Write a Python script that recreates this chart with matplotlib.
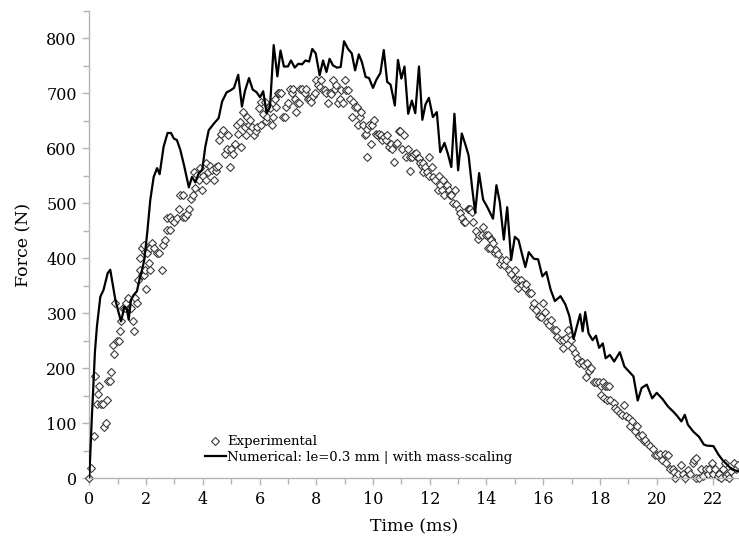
import matplotlib
matplotlib.use("Agg")
import matplotlib.pyplot as plt
from matplotlib.ticker import MultipleLocator

# numerical model (le = 0.3 mm, mass-scaling)
num_t = [0, 0.09, 0.2, 0.27, 0.39, 0.5, 0.65, 0.74, 0.92, 1.04, 1.12, 1.24, 1.33, 1.39,
         1.47, 1.56, 1.68, 1.78, 1.86, 1.94, 2.04, 2.15, 2.27, 2.39, 2.48, 2.62, 2.76,
         2.88, 2.98, 3.09, 3.21, 3.35, 3.51, 3.62, 3.74, 3.86, 3.98, 4.09, 4.21, 4.39,
         4.56, 4.68, 4.84, 4.96, 5.1, 5.25, 5.38, 5.49, 5.63, 5.76, 5.9, 6.02, 6.13,
         6.25, 6.37, 6.5, 6.63, 6.74, 6.86, 7.0, 7.11, 7.24, 7.37, 7.5, 7.62, 7.75,
         7.86, 7.98, 8.12, 8.24, 8.36, 8.47, 8.59, 8.73, 8.86, 8.98, 9.12, 9.25, 9.37,
         9.5, 9.61, 9.74, 9.86, 10.0, 10.12, 10.26, 10.38, 10.5, 10.62, 10.77, 10.88,
         11.0, 11.11, 11.24, 11.37, 11.49, 11.62, 11.74, 11.85, 11.97, 12.11, 12.25,
         12.37, 12.52, 12.64, 12.76, 12.87, 13.0, 13.13, 13.25, 13.37, 13.49, 13.6,
         13.74, 13.88, 14.03, 14.23, 14.35, 14.47, 14.61, 14.73, 14.87, 15.0, 15.13,
         15.24, 15.37, 15.49, 15.67, 15.82, 15.97, 16.11, 16.26, 16.41, 16.61, 16.78,
         16.92, 17.07, 17.19, 17.3, 17.39, 17.48, 17.6, 17.74, 17.86, 17.97, 18.1, 18.2,
         18.35, 18.5, 18.7, 18.86, 19.02, 19.18, 19.33, 19.47, 19.65, 19.84, 20.0, 20.2,
         20.4, 20.58, 20.72, 20.87, 20.99, 21.1, 21.28, 21.49, 21.66, 21.76, 22.0,
         22.17, 22.33, 22.47, 22.64, 22.82, 22.95]
num_f = [0, 109, 230, 276, 330, 342, 373, 379, 324, 300, 285, 312, 306, 288,
         324, 333, 340, 364, 379, 397, 445, 506, 548, 564, 553, 603, 628,
         628, 618, 615, 597, 567, 529, 548, 538, 555, 561, 603, 633, 645,
         655, 685, 702, 705, 710, 734, 676, 705, 728, 707, 702, 693, 704,
         664, 675, 788, 731, 778, 749, 749, 760, 747, 754, 753, 760, 758,
         781, 773, 733, 760, 739, 763, 751, 747, 748, 795, 781, 773, 742,
         771, 757, 730, 728, 710, 725, 737, 779, 721, 716, 678, 761,
         727, 749, 663, 687, 664, 749, 652, 680, 692, 657, 666,
         593, 610, 590, 566, 663, 560, 627, 608, 587, 530, 483,
         555, 507, 493, 472, 533, 502, 434, 493, 397, 439, 433,
         410, 384, 411, 399, 398, 367, 375, 343, 322, 331, 316,
         295, 253, 277, 298, 267, 302, 263, 251, 259, 237, 245, 218,
         224, 212, 229, 203, 194, 185, 141, 164, 170, 145, 155, 144,
         130, 121, 113, 103, 115, 97, 85, 75, 61, 59, 58,
         43, 32, 25, 16, 13, 12]

# experimental measurements
exp_t = [0, 0.07, 0.15, 0.21, 0.27, 0.31, 0.36, 0.42, 0.48, 0.51, 0.59, 0.62, 0.66, 0.72,
         0.78, 0.82, 0.88, 0.92, 0.98, 1.04, 1.09, 1.12, 1.18, 1.25, 1.31, 1.36, 1.42,
         1.48, 1.53, 1.56, 1.62, 1.68, 1.72, 1.78, 1.8, 1.86, 1.86, 1.92, 1.92, 1.95,
         1.98, 2.01, 2.04, 2.09, 2.13, 2.14, 2.2, 2.28, 2.37, 2.46, 2.55, 2.6, 2.66,
         2.75, 2.84, 2.75, 2.84, 2.9, 2.99, 3.08, 3.15, 3.19, 3.29, 3.29, 3.37, 3.43,
         3.52, 3.57, 3.64, 3.72, 3.69, 3.78, 3.87, 3.96, 3.92, 4.02, 4.11, 4.13, 4.19,
         4.25, 4.31, 4.39, 4.46, 4.48, 4.54, 4.58, 4.66, 4.72, 4.78, 4.84, 4.9, 4.95,
         5.01, 5.07, 5.13, 5.19, 5.25, 5.3, 5.36, 5.42, 5.48, 5.52, 5.56, 5.63, 5.68,
         5.75, 5.8, 5.87, 5.92, 5.99, 6.04, 6.07, 6.13, 6.18, 6.22, 6.27, 6.34, 6.38,
         6.43, 6.48, 6.53, 6.59, 6.65, 6.7, 6.77, 6.83, 6.89, 6.95, 7.01, 7.07, 7.13,
         7.18, 7.24, 7.28, 7.32, 7.4, 7.44, 7.51, 7.59, 7.65, 7.71, 7.77, 7.83, 7.89,
         7.95, 8.0, 8.06, 8.12, 8.18, 8.24, 8.3, 8.35, 8.41, 8.47, 8.53, 8.59, 8.65,
         8.71, 8.77, 8.83, 8.88, 8.94, 9.0, 9.06, 9.12, 9.18, 9.25, 9.3, 9.36, 9.42,
         9.48, 9.53, 9.59, 9.65, 9.71, 9.77, 9.79, 9.8, 9.86, 9.92, 9.98, 10.04, 10.1,
         10.15, 10.21, 10.27, 10.33, 10.39, 10.45, 10.51, 10.56, 10.62, 10.68, 10.74,
         10.8, 10.86, 10.91, 10.96, 11.03, 11.11, 11.17, 11.23, 11.31, 11.31, 11.38,
         11.45, 11.51, 11.57, 11.63, 11.65, 11.72, 11.77, 11.77, 11.84, 11.89, 11.97,
         11.99, 12.08, 12.13, 12.2, 12.28, 12.34, 12.36, 12.43, 12.48, 12.52, 12.6,
         12.67, 12.72, 12.76, 12.81, 12.9, 12.93, 13.02, 13.08, 13.14, 13.2, 13.26,
         13.34, 13.37, 13.42, 13.49, 13.53, 13.63, 13.69, 13.75, 13.84, 13.88, 13.98,
         14.04, 14.07, 14.11, 14.15, 14.17, 14.24, 14.3, 14.34, 14.42, 14.46, 14.55,
         14.6, 14.69, 14.79, 14.87, 14.99, 14.99, 15.1, 15.1, 15.22, 15.25, 15.34,
         15.4, 15.49, 15.57, 15.63, 15.69, 15.75, 15.84, 15.92, 15.98, 16.07, 16.12,
         16.21, 16.27, 16.39, 16.45, 16.5, 16.58, 16.68, 16.68, 16.8, 16.86, 16.97,
         17.03, 17.12, 17.2, 17.26, 17.35, 17.44, 17.49, 17.55, 17.61, 17.7, 17.79,
         17.87, 17.96, 18.02, 18.1, 18.17, 18.25, 18.33, 18.02, 18.14, 18.25, 18.37,
         18.49, 18.52, 18.6, 18.69, 18.78, 18.84, 18.9, 19.02, 19.07, 19.13, 19.25,
         19.31, 19.37, 19.48, 19.54, 19.6, 19.7, 19.78, 19.86, 19.93, 20.01, 20.1,
         20.19, 20.28, 20.31, 20.39, 20.47, 20.56, 20.62, 20.66, 20.74, 20.86, 20.92,
         21.01, 21.1, 21.18, 21.28, 21.33, 21.39, 21.39, 21.48, 21.56, 21.62, 21.72,
         21.8, 21.86, 21.95, 22.0, 22.07, 22.15, 22.21, 22.27, 22.33, 22.39, 22.45,
         22.51, 22.56, 22.62, 22.71, 22.78, 22.86]
exp_f = [0, 18, 76, 185, 135, 152, 168, 135, 135, 93, 101, 142, 176, 176,
         193, 242, 226, 318, 250, 250, 268, 285, 309, 309, 319, 327, 309,
         309, 285, 268, 327, 318, 360, 400, 379, 370, 418, 370, 424, 412,
         379, 344, 409, 391, 379, 418, 427, 418, 409, 409, 378, 424, 434,
         451, 451, 474, 475, 469, 466, 474, 490, 516, 516, 475, 475, 481,
         490, 508, 516, 527, 557, 551, 542, 525, 565, 549, 542, 573, 557,
         567, 560, 542, 559, 566, 567, 616, 626, 633, 590, 599, 624, 566,
         599, 590, 608, 642, 626, 648, 603, 666, 639, 624, 657, 642, 651,
         639, 624, 632, 639, 674, 642, 684, 663, 684, 650, 657, 675, 674,
         642, 658, 690, 675, 700, 700, 700, 658, 658, 675, 682, 708, 700,
         708, 690, 667, 682, 682, 708, 708, 700, 708, 690, 690, 684, 696,
         700, 724, 715, 711, 724, 707, 707, 700, 682, 700, 699, 724, 708,
         715, 682, 690, 707, 682, 724, 707, 707, 690, 658, 684, 675, 675,
         642, 658, 667, 642, 624, 627, 584, 636, 642, 608, 642, 651, 627,
         624, 627, 624, 615, 621, 615, 624, 603, 608, 599, 575,
         608, 609, 632, 632, 599, 624, 584, 599, 584, 558, 584,
         590, 591, 583, 583, 573, 567, 573, 557, 566, 557, 584,
         549, 566, 548, 542, 525, 549, 533, 525, 542, 516, 533,
         525, 516, 516, 500, 525, 499, 490, 482, 474, 466, 466,
         490, 490, 490, 484, 466, 450, 435, 442, 442, 457, 442,
         442, 418, 418, 435, 433, 427, 409, 415, 407, 390, 396,
         387, 396, 378, 372, 378, 363, 360, 345, 360, 351, 345,
         354, 336, 336, 312, 318, 306, 294, 293, 318, 303, 284,
         278, 287, 269, 269, 257, 251, 251, 236, 254, 269, 251,
         236, 227, 218, 209, 212, 206, 184, 209, 194, 201, 175,
         175, 175, 167, 175, 167, 167, 167, 151, 145, 142, 142,
         136, 127, 124, 119, 115, 133, 112, 109, 94, 103, 85,
         94, 76, 79, 67, 70, 61, 58, 52, 42, 42, 44,
         33, 44, 27, 42, 17, 17, 11, 0, 8, 24, 8,
         0, 15, 8, 27, 33, 36, 0, 0, 17, 3, 17,
         8, 17, 27, 8, 16, 3, 8, 0, 16, 27, 3,
         8, 0, 12, 28, 16, 24]

plt.rcParams["font.family"] = ["DejaVu Serif"]

fig = plt.figure(figsize=(7.39, 5.40), dpi=100)
ax = fig.add_axes([0.1208, 0.1148, 0.8792, 0.8648])

axis_grey = "#b4b4b4"

ax.plot(exp_t, exp_f, ls="none", marker="D", ms=3.7, mfc="white",
        mec="#3a3a3a", mew=0.8, clip_on=False, label="Experimental", zorder=2)
ax.plot(num_t, num_f, color="black", lw=1.6,
        label="Numerical: le=0.3 mm | with mass-scaling", zorder=3)

ax.set_xlim(0, 22.9)
ax.set_ylim(0, 850)
ax.xaxis.set_major_locator(MultipleLocator(2))
ax.xaxis.set_minor_locator(MultipleLocator(1))
ax.yaxis.set_major_locator(MultipleLocator(100))
ax.yaxis.set_minor_locator(MultipleLocator(50))

for side in ("top", "right"):
    ax.spines[side].set_visible(False)
for side in ("left", "bottom"):
    ax.spines[side].set_color(axis_grey)
    ax.spines[side].set_linewidth(1.0)
ax.tick_params(which="both", direction="out", color=axis_grey, width=1.0,
               labelsize=11.5, labelcolor="black")
ax.tick_params(which="major", length=5, pad=4)
ax.tick_params(which="minor", length=4)

ax.set_xlabel("Time (ms)", fontsize=12.5, labelpad=8)
ax.set_ylabel("Force (N)", fontsize=12.5, labelpad=10)

ax.legend(loc="lower left", bbox_to_anchor=(0.178, 0.03), frameon=False,
          fontsize=9.5, handlelength=1.6, handletextpad=0.1, borderpad=0,
          labelspacing=0.2, borderaxespad=0)

fig.savefig("out.png", dpi=100)
